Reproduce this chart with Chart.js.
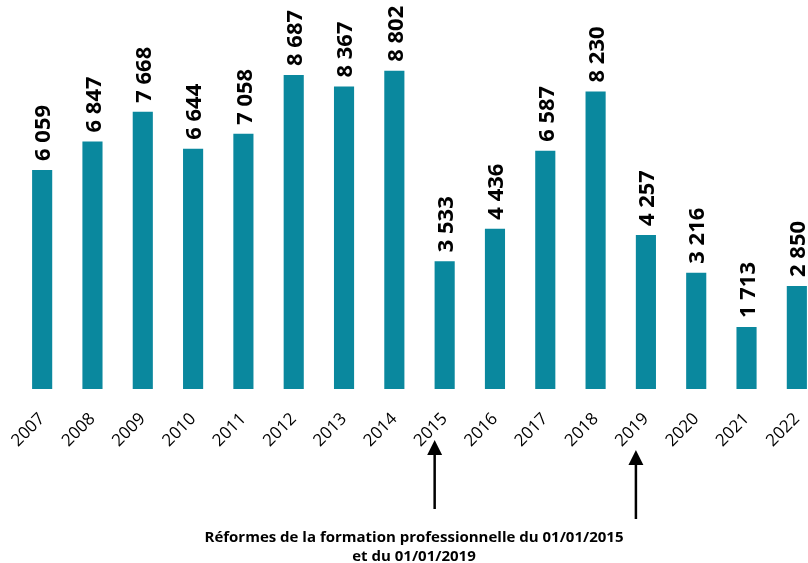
<!DOCTYPE html>
<html>
<head>
<meta charset="utf-8">
<script src="https://cdn.jsdelivr.net/npm/chart.js@4/dist/chart.umd.min.js"></script>
<style>
  html, body { margin: 0; padding: 0; background: #fff; }
  #wrap { position: relative; width: 808px; height: 563px; overflow: hidden; }
  #wrap canvas { position: absolute; left: 0; top: 0; }
  #note {
    position: absolute; left: 114px; width: 600px; top: 527px;
    text-align: center; font: bold 15px 'Open Sans', sans-serif; line-height: 19px; color: #000;
  }
</style>
</head>
<body>
<div id="wrap">
  <canvas id="chart" width="830" height="563"></canvas>
  <div id="note">Réformes de la formation professionnelle du 01/01/2015<br>et du 01/01/2019</div>
</div>
<script>
const years = ['2007', '2008', '2009', '2010', '2011', '2012', '2013', '2014',
               '2015', '2016', '2017', '2018', '2019', '2020', '2021', '2022'];
const values = [6059, 6847, 7668, 6644, 7058, 8687, 8367, 8802,
                3533, 4436, 6587, 8230, 4257, 3216, 1713, 2850];
const reformYears = ['2015', '2019'];

const fmt = v => String(v).replace(/\B(?=(\d{3})+(?!\d))/g, ' ');

// value labels written vertically above each bar
const valueLabels = {
    id: 'valueLabels',
    afterDatasetsDraw(chart) {
        const ctx = chart.ctx;
        const meta = chart.getDatasetMeta(0);
        ctx.save();
        ctx.font = 'bold 22px "Open Sans", sans-serif';
        ctx.fillStyle = '#000';
        ctx.textAlign = 'left';
        ctx.textBaseline = 'middle';
        meta.data.forEach((bar, i) => {
            ctx.save();
            ctx.translate(bar.x + 2, bar.y - 9);
            ctx.rotate(-Math.PI / 2);
            ctx.fillText(fmt(values[i]), 0, 0);
            ctx.restore();
        });
        ctx.restore();
    }
};

// arrows under the reform years
const reformArrows = {
    id: 'reformArrows',
    afterDraw(chart) {
        const ctx = chart.ctx;
        const x = chart.scales.x;
        ctx.save();
        ctx.strokeStyle = '#000';
        ctx.fillStyle = '#000';
        ctx.lineWidth = 2.5;
        reformYears.forEach((y, i) => {
            const px = x.getPixelForValue(years.indexOf(y)) - 10;
            const tip = 440 + i * 10;
            ctx.beginPath();
            ctx.moveTo(px, tip + 12);
            ctx.lineTo(px, tip + 69);
            ctx.stroke();
            ctx.beginPath();
            ctx.moveTo(px, tip);
            ctx.lineTo(px - 7.5, tip + 15);
            ctx.lineTo(px + 7.5, tip + 15);
            ctx.closePath();
            ctx.fill();
        });
        ctx.restore();
    }
};

new Chart(document.getElementById('chart'), {
    type: 'bar',
    data: {
        labels: years,
        datasets: [{
            data: values,
            backgroundColor: '#0a889e',
            barPercentage: 0.4,
            categoryPercentage: 1
        }]
    },
    options: {
        responsive: false,
        animation: false,
        layout: { padding: { left: 17, right: 8, top: 0, bottom: 0 } },
        plugins: {
            legend: { display: false },
            tooltip: { enabled: false }
        },
        scales: {
            x: {
                grid: { display: false, drawTicks: false },
                border: { display: false },
                ticks: {
                    minRotation: 45,
                    maxRotation: 45,
                    padding: 20,
                    color: '#000',
                    font: { family: 'Open Sans', size: 17 }
                },
                afterFit(scale) {
                    scale.height = 174;
                    scale.paddingLeft = 0;
                    scale.paddingRight = 0;
                }
            },
            y: {
                display: false,
                min: 0,
                max: 10760
            }
        }
    },
    plugins: [valueLabels, reformArrows]
});
</script>
</body>
</html>
